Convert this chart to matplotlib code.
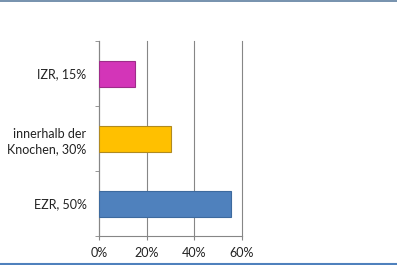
import numpy as np
import matplotlib
matplotlib.use("Agg")
import matplotlib.pyplot as plt
from matplotlib.lines import Line2D
from matplotlib.ticker import FixedLocator, PercentFormatter

# data, bottom to top
labels = ["EZR, 50%", "innerhalb der\nKnochen, 30%", "IZR, 15%"]
values = [55.5, 30.2, 15.0]
colors = ["#4f81bd", "#ffc000", "#d335b8"]
edges  = ["#3d6a9e", "#b08a20", "#9e2c8a"]
xticks = [0, 20, 40, 60]

plt.rcParams["font.family"] = ["Lato", "DejaVu Sans"]

fig = plt.figure(figsize=(3.97, 2.65), dpi=100, facecolor="white")
ax = fig.add_axes([0.2494, 0.1094, 0.3602, 0.7358])

y = np.arange(len(labels))
ax.barh(y, values, height=0.4, color=colors, edgecolor=edges, linewidth=0.8, zorder=3)

ax.set_xlim(0, 60)
ax.set_ylim(-0.5, len(labels) - 0.5)
ax.set_xticks(xticks)
ax.xaxis.set_major_formatter(PercentFormatter(decimals=0))
ax.set_yticks(y)
ax.set_yticklabels(labels, fontsize=9, color="#222222", linespacing=1.35)
ax.yaxis.set_minor_locator(FixedLocator(np.arange(len(labels) + 1) - 0.5))
ax.tick_params(axis="y", which="major", length=0, pad=9)
ax.tick_params(axis="y", which="minor", length=3, color="#868686")
ax.tick_params(axis="x", length=3, color="#868686", labelsize=9, labelcolor="#222222", pad=5)

ax.grid(axis="x", color="#868686", linewidth=0.8, zorder=0)
for gl in ax.get_xgridlines():
    gl.set_clip_on(False)
for s in ["top", "right"]:
    ax.spines[s].set_visible(False)
for s in ["left", "bottom"]:
    ax.spines[s].set_color("#868686")
    ax.spines[s].set_linewidth(0.8)

# frame lines at top and bottom of the picture
fig.add_artist(Line2D([0, 1], [0.998, 0.998], color="#5f7f9f", linewidth=1.2))
fig.add_artist(Line2D([0, 1], [0.005, 0.005], color="#4f81bd", linewidth=1.5))

fig.savefig("out.png", dpi=100, facecolor="white")
